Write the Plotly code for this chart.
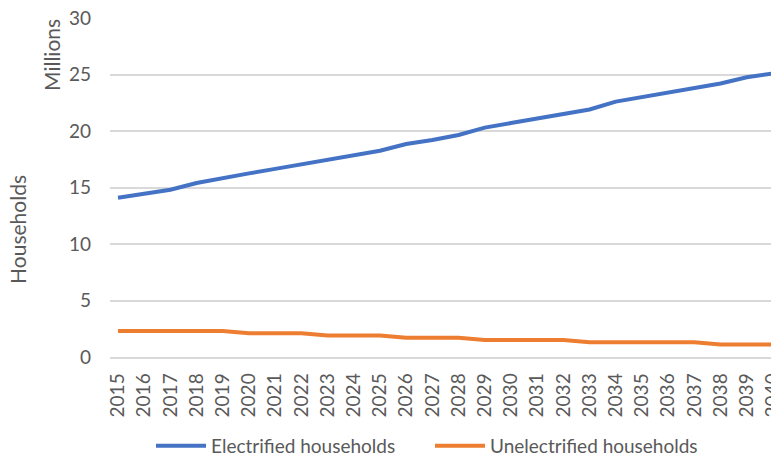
import plotly.graph_objects as go

years = [str(y) for y in range(2015, 2041)]
electrified = [14.1, 14.45, 14.8, 15.4, 15.85, 16.25, 16.65, 17.05, 17.45, 17.85,
               18.25, 18.85, 19.2, 19.65, 20.3, 20.7, 21.1, 21.5, 21.9, 22.6,
               23.0, 23.4, 23.8, 24.2, 24.75, 25.1]
unelectrified = [2.3, 2.3, 2.3, 2.3, 2.3, 2.1, 2.1, 2.1, 1.9, 1.9,
                 1.9, 1.7, 1.7, 1.7, 1.5, 1.5, 1.5, 1.5, 1.3, 1.3,
                 1.3, 1.3, 1.3, 1.1, 1.1, 1.1]
y_ticks = [0, 5, 10, 15, 20, 25, 30]

FONT = "Lato"
GREY = "#595959"

fig = go.Figure()
fig.add_trace(go.Scatter(x=years, y=electrified, mode="lines", name="Electrified households",
                         line=dict(color="#4472C4", width=4)))
fig.add_trace(go.Scatter(x=years, y=unelectrified, mode="lines", name="Unelectrified households",
                         line=dict(color="#ED7D31", width=4)))

fig.update_layout(
    width=771, height=451,
    margin=dict(l=102, r=0, t=10, b=102, autoexpand=False),
    paper_bgcolor="white", plot_bgcolor="white",
    font=dict(family=FONT, size=19, color=GREY),
    showlegend=True,
    legend=dict(orientation="h", xref="container", yref="container",
                x=0.1855, y=0.029, xanchor="left", yanchor="middle",
                font=dict(family=FONT, size=19, color=GREY),
                entrywidth=214, entrywidthmode="pixels", itemwidth=50),
    xaxis=dict(type="category", range=[-0.305, 25.23], tickangle=-90, automargin=False,
               showgrid=False, showline=True, linecolor="#D9D9D9", linewidth=1.5,
               ticks="", ticklabelstandoff=7, ticklabeloverflow="allow",
               tickfont=dict(size=19, color=GREY)),
    yaxis=dict(range=[0, 30], tickvals=y_ticks, showgrid=True, gridcolor="#D9D9D9",
               gridwidth=1.5, zeroline=False, showline=False, ticks="", automargin=False,
               ticklabelstandoff=18, ticklabeloverflow="allow",
               tickfont=dict(size=19, color=GREY)),
    annotations=[
        dict(text="Households", xref="paper", yref="paper", x=-0.1375, y=0.375,
             textangle=-90, showarrow=False, font=dict(size=21, color=GREY),
             xanchor="center", yanchor="middle"),
        dict(text="Millions", xref="paper", yref="paper", x=-0.0867, y=0.891,
             textangle=-90, showarrow=False, font=dict(size=21, color=GREY),
             xanchor="center", yanchor="middle"),
    ],
)

fig.write_html("out.html")
